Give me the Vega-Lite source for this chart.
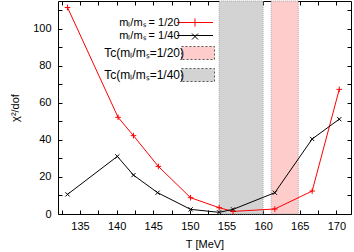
{
  "$schema": "https://vega.github.io/schema/vega-lite/v6.json",
  "width": 293,
  "height": 213,
  "autosize": {"type": "none"},
  "padding": {"left": 58, "top": 1, "right": 3, "bottom": 38},
  "background": "white",
  "config": {
    "view": {"stroke": "black", "strokeWidth": 1},
    "font": "Liberation Sans",
    "axis": {"grid": false, "domain": false, "tickColor": "black", "labelColor": "black", "titleColor": "black", "labelFont": "Liberation Sans", "titleFont": "Liberation Sans", "labelFontSize": 11, "titleFontSize": 11, "titleFontWeight": "normal"},
    "legend": {"labelFont": "Liberation Sans", "labelFontSize": 12, "labelColor": "black"}
  },
  "datasets": {
    "pts": [
      {"T": 133.3, "chi": 111.5, "ratio": "mₗ/mₛ = 1/20"},
      {"T": 140.2, "chi": 52.2, "ratio": "mₗ/mₛ = 1/20"},
      {"T": 142.3, "chi": 42.3, "ratio": "mₗ/mₛ = 1/20"},
      {"T": 145.7, "chi": 25.7, "ratio": "mₗ/mₛ = 1/20"},
      {"T": 150.1, "chi": 8.8, "ratio": "mₗ/mₛ = 1/20"},
      {"T": 154.0, "chi": 3.4, "ratio": "mₗ/mₛ = 1/20"},
      {"T": 155.9, "chi": 1.4, "ratio": "mₗ/mₛ = 1/20"},
      {"T": 161.6, "chi": 2.7, "ratio": "mₗ/mₛ = 1/20"},
      {"T": 166.7, "chi": 12.4, "ratio": "mₗ/mₛ = 1/20"},
      {"T": 170.4, "chi": 67.3, "ratio": "mₗ/mₛ = 1/20"},
      {"T": 133.3, "chi": 10.6, "ratio": "mₗ/mₛ = 1/40"},
      {"T": 140.1, "chi": 31.1, "ratio": "mₗ/mₛ = 1/40"},
      {"T": 142.3, "chi": 21.0, "ratio": "mₗ/mₛ = 1/40"},
      {"T": 145.6, "chi": 11.5, "ratio": "mₗ/mₛ = 1/40"},
      {"T": 150.1, "chi": 2.5, "ratio": "mₗ/mₛ = 1/40"},
      {"T": 154.0, "chi": 0.9, "ratio": "mₗ/mₛ = 1/40"},
      {"T": 155.9, "chi": 2.5, "ratio": "mₗ/mₛ = 1/40"},
      {"T": 161.6, "chi": 11.5, "ratio": "mₗ/mₛ = 1/40"},
      {"T": 166.7, "chi": 40.5, "ratio": "mₗ/mₛ = 1/40"},
      {"T": 170.4, "chi": 51.2, "ratio": "mₗ/mₛ = 1/40"}
    ],
    "bands": [
      {"T0": 161.1, "T1": 164.8, "band": "Tc(mₗ/mₛ=1/20)"},
      {"T0": 154.0, "T1": 160.0, "band": "Tc(mₗ/mₛ=1/40)"}
    ]
  },
  "resolve": {"axis": {"x": "independent", "y": "independent"}},
  "layer": [
    {
      "data": {"name": "bands"},
      "mark": {"type": "rect", "stroke": "#999999", "strokeWidth": 0.8, "strokeDash": [1, 1]},
      "encoding": {
        "x": {"field": "T0", "type": "quantitative", "scale": {"domain": [132, 172], "nice": false, "zero": false}, "axis": null},
        "x2": {"field": "T1"},
        "fill": {
          "field": "band", "type": "nominal",
          "scale": {"domain": ["Tc(mₗ/mₛ=1/20)", "Tc(mₗ/mₛ=1/40)"], "range": ["#ffcccc", "#d3d3d3"]},
          "legend": {
            "orient": "none", "legendX": 133, "legendY": 45, "title": null,
            "symbolSize": 169, "symbolType": "M-2.54,-1H2.54V1H-2.54Z",
            "symbolStrokeColor": "#555555", "symbolStrokeWidth": 1, "symbolDash": [2, 2],
            "labelAlign": "right", "labelOffset": -21, "rowPadding": 4
          }
        }
      }
    },
    {
      "mark": {"type": "rule", "color": "#909090", "strokeWidth": 3, "strokeDash": [4, 4]},
      "encoding": {
        "y": {"datum": 1, "type": "quantitative", "scale": {"domain": [0, 115], "nice": false}, "axis": null}
      }
    },
    {
      "data": {"name": "pts"},
      "mark": {"type": "line", "strokeWidth": 1},
      "encoding": {
        "x": {"field": "T", "type": "quantitative", "scale": {"domain": [132, 172], "nice": false, "zero": false},
          "axis": {"orient": "bottom", "title": "T [MeV]", "values": [132.5, 135, 137.5, 140, 142.5, 145, 147.5, 150, 152.5, 155, 157.5, 160, 162.5, 165, 167.5, 170],
            "labelExpr": "datum.value % 5 == 0 ? datum.label : ''", "tickSize": -4, "labelPadding": 10, "titlePadding": 7, "labelFlush": false}},
        "y": {"field": "chi", "type": "quantitative", "scale": {"domain": [0, 115], "nice": false},
          "axis": {"orient": "left", "title": "χ²/dof", "values": [0, 10, 20, 30, 40, 50, 60, 70, 80, 90, 100, 110],
            "labelExpr": "datum.value % 20 == 0 ? datum.label : ''", "tickSize": -4, "labelPadding": 11, "titlePadding": 12, "labelFlush": false}},
        "color": {
          "field": "ratio", "type": "nominal",
          "scale": {"domain": ["mₗ/mₛ = 1/20", "mₗ/mₛ = 1/40"], "range": ["#ff0000", "#000000"]},
          "legend": {
            "orient": "none", "legendX": 131.5, "legendY": 16, "title": null,
            "symbolSize": 100, "symbolStrokeWidth": 1, "symbolType": "M-3.6,0H3.6",
            "labelAlign": "right", "labelOffset": -21, "rowPadding": 1, "labelFontSize": 11
          }
        }
      }
    },
    {
      "data": {"name": "pts"},
      "transform": [{"calculate": "indexof(datum.ratio, '1/20') >= 0 ? 'p20' : 'p40'", "as": "series"}],
      "mark": {"type": "point", "filled": false, "strokeWidth": 1, "size": 49, "opacity": 1},
      "encoding": {
        "x": {"field": "T", "type": "quantitative", "scale": {"domain": [132, 172], "nice": false, "zero": false},
          "axis": {"orient": "top", "title": null, "labels": false, "values": [132.5, 135, 137.5, 140, 142.5, 145, 147.5, 150, 152.5, 155, 157.5, 160, 162.5, 165, 167.5, 170], "tickSize": -4}},
        "y": {"field": "chi", "type": "quantitative", "scale": {"domain": [0, 115], "nice": false},
          "axis": {"orient": "right", "title": null, "labels": false, "values": [0, 10, 20, 30, 40, 50, 60, 70, 80, 90, 100, 110], "tickSize": -4}},
        "stroke": {
          "field": "series", "type": "nominal",
          "scale": {"domain": ["p20", "p40"], "range": ["#ff0000", "#000000"]},
          "legend": {
            "orient": "none", "legendX": 131.5, "legendY": 16, "title": null,
            "symbolSize": 100, "symbolStrokeWidth": 1,
            "labelAlign": "right", "labelOffset": -21, "rowPadding": 1, "labelFontSize": 11, "labelExpr": "''"
          }
        },
        "shape": {
          "field": "series", "type": "nominal",
          "scale": {"domain": ["p20", "p40"], "range": ["M-0.8,0H0.8M0,-0.8V0.8", "M-0.6,-0.6L0.6,0.6M-0.6,0.6L0.6,-0.6"]}
        }
      }
    }
  ]
}
